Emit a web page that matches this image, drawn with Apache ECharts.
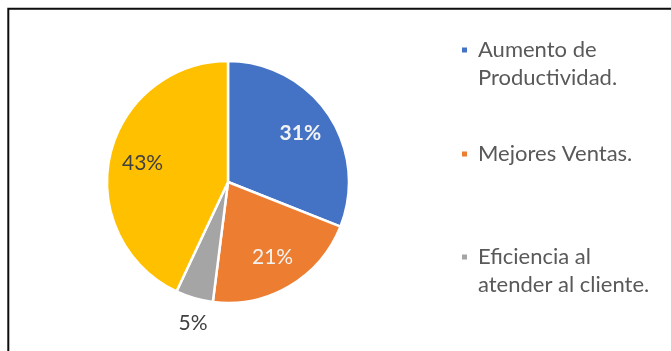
<!DOCTYPE html>
<html>
<head>
<meta charset="utf-8">
<script src="https://cdn.jsdelivr.net/npm/echarts@6/dist/echarts.min.js"></script>
<style>
  html, body { margin: 0; padding: 0; background: #ffffff; }
  #chart { width: 671px; height: 351px; }
</style>
</head>
<body>
<div id="chart"></div>
<script>
// Motivos y su participación (%)
const categories = ['Aumento de Productividad.', 'Mejores Ventas.', 'Eficiencia al atender al cliente.', 'Otros'];
const legendLabels = ['Aumento de\nProductividad.', 'Mejores Ventas.', 'Eficiencia al\natender al cliente.'];
const shares = [31, 21, 5, 43];
const sliceColors = ['#4472C4', '#ED7D31', '#A5A5A5', '#FFC000'];

const FONT = 'Lato, "Open Sans", sans-serif';
const CENTER = [228, 182];
const RADIUS = 121;
const LINE_H = 28;

// Label look per slice
const insideLabelStyle = [
  { show: true, color: '#F2F2F2', fontWeight: 'bold' },
  { show: true, color: '#F2F2F2', fontWeight: 'normal' },
  { show: false, color: '#404040', fontWeight: 'normal' },
  { show: true, color: '#404040', fontWeight: 'normal' }
];

const pct = p => p.value + '%';

const baseData = categories.map((name, i) => ({
  name: name,
  value: shares[i],
  itemStyle: { color: sliceColors[i] }
}));

// Transparent ring whose mid-radius carries the in-slice labels
const innerLabelData = categories.map((name, i) => ({
  name: name,
  value: shares[i],
  itemStyle: { color: 'rgba(0,0,0,0)' },
  label: {
    show: insideLabelStyle[i].show,
    color: insideLabelStyle[i].color,
    fontWeight: insideLabelStyle[i].fontWeight
  }
}));

// Transparent ring outside the pie for the small slice's label
const outerLabelData = categories.map((name, i) => ({
  name: name,
  value: shares[i],
  itemStyle: { color: 'rgba(0,0,0,0)' },
  label: { show: i === 2, color: '#404040', padding: [0, 0, 0, 12] }
}));

// Marker centre heights; two-line entries get a blank line on top so the
// marker lines up with their first line of text
const markerY = [50, 154, 257];

const chart = echarts.init(document.getElementById('chart'), null, { renderer: 'canvas' });
chart.setOption({
  animation: false,
  backgroundColor: '#ffffff',
  graphic: [{
    type: 'polyline',
    shape: { points: [[8.3, 351], [8.3, 8.8], [671, 8.8]] },
    style: { stroke: '#0d0d0d', lineWidth: 2, fill: null },
    silent: true
  }],
  legend: legendLabels.map((lbl, i) => {
    const multi = lbl.indexOf('\n') >= 0;
    const nLines = multi ? 3 : 1;
    return {
      data: [categories[i]],
      left: 460,
      top: markerY[i] - nLines * LINE_H / 2,
      orient: 'vertical',
      padding: 0,
      icon: 'rect',
      itemWidth: 7,
      itemHeight: 7,
      selectedMode: false,
      formatter: () => (multi ? ' \n' : '') + lbl,
      textStyle: {
        fontFamily: FONT,
        fontSize: 22,
        color: '#595959',
        lineHeight: LINE_H,
        padding: [0, 0, 0, 5]
      }
    };
  }),
  series: [
    {
      type: 'pie',
      center: CENTER,
      radius: [0, RADIUS],
      startAngle: 90,
      clockwise: true,
      avoidLabelOverlap: false,
      silent: true,
      label: { show: false },
      labelLine: { show: false },
      itemStyle: { borderColor: '#ffffff', borderWidth: 2.5 },
      data: baseData
    },
    {
      type: 'pie',
      center: CENTER,
      radius: [50, 119],
      startAngle: 90,
      clockwise: true,
      avoidLabelOverlap: false,
      silent: true,
      label: {
        position: 'inside',
        formatter: pct,
        fontFamily: FONT,
        fontSize: 21
      },
      labelLine: { show: false },
      data: innerLabelData
    },
    {
      type: 'pie',
      center: CENTER,
      radius: [138, 150],
      startAngle: 90,
      clockwise: true,
      avoidLabelOverlap: false,
      silent: true,
      label: {
        position: 'inside',
        formatter: pct,
        fontFamily: FONT,
        fontSize: 21
      },
      labelLine: { show: false },
      data: outerLabelData
    }
  ]
});
</script>
</body>
</html>
